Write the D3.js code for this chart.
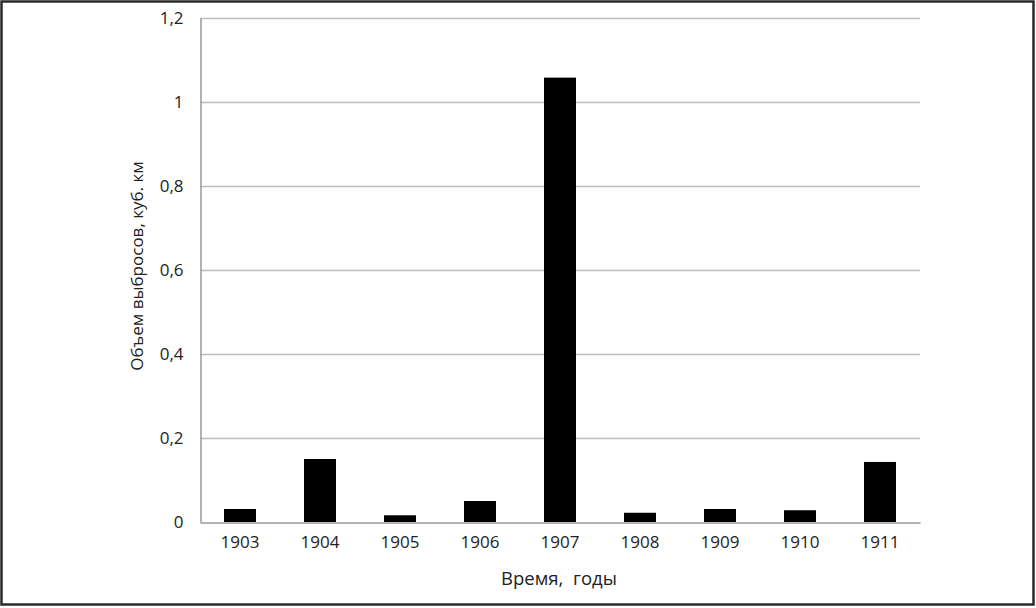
<!DOCTYPE html>
<html><head><meta charset="utf-8">
<script src="https://cdn.jsdelivr.net/npm/d3@7"></script>
<style>body{margin:0;background:#fff}svg{display:block}</style>
</head><body>
<svg id="c" width="1036" height="608"></svg>
<script>
const categories = ["1903","1904","1905","1906","1907","1908","1909","1910","1911"];
const values = [0.031, 0.15, 0.016, 0.05, 1.058, 0.022, 0.031, 0.028, 0.143];
const yTicks = [0, 0.2, 0.4, 0.6, 0.8, 1, 1.2];
const yTickLabels = ["0","0,2","0,4","0,6","0,8","1","1,2"];
const xTitle = "Время,  годы";
const yTitle = "Объем выбросов, куб. км";

const svg = d3.select("#c");
const font = "'Open Sans', sans-serif";
const m = {left:200, right:920, top:18, bottom:522};

svg.append("rect").attr("x",1.5).attr("y",1.5).attr("width",1032).attr("height",603)
  .attr("fill","#fff").attr("stroke","#2a2a2a").attr("stroke-width",2.5);

const x = d3.scaleBand().domain(categories).range([m.left, m.right]).paddingInner(0.6).paddingOuter(0.3);
const y = d3.scaleLinear().domain([0,1.2]).range([m.bottom, m.top]);

// gridlines
svg.append("g").selectAll("line").data(yTicks.filter(d=>d>0)).join("line")
  .attr("x1",m.left).attr("x2",m.right)
  .attr("y1",d=>Math.round(y(d))+0.5).attr("y2",d=>Math.round(y(d))+0.5)
  .attr("stroke","#bdbdbd").attr("stroke-width",1.3);

// y axis
const yAxis = d3.axisLeft(y).tickValues(yTicks).tickFormat((d,i)=>yTickLabels[i]).tickSize(0).tickPadding(17);
const ga = svg.append("g").attr("transform",`translate(${m.left+0.5},0)`).call(yAxis);
ga.select(".domain").attr("stroke","#9a9a9a").attr("stroke-width",1.5);
ga.selectAll("text").attr("font-family",font).attr("font-size",17).attr("fill","#222");

// bars
svg.append("g").selectAll("rect").data(values).join("rect")
  .attr("x",(d,i)=>x(categories[i])).attr("width",x.bandwidth())
  .attr("y",d=>y(d)).attr("height",d=>y(0)-y(d)).attr("fill","#000");

// x axis
const xAxis = d3.axisBottom(x).tickSize(0).tickPadding(13);
const gx = svg.append("g").attr("transform",`translate(0,${m.bottom+0.5})`).call(xAxis);
gx.select(".domain").attr("stroke","#9a9a9a").attr("stroke-width",1.5);
gx.selectAll("text").attr("font-family",font).attr("font-size",17).attr("fill","#222");

svg.append("text").attr("x",559).attr("y",585).attr("text-anchor","middle")
  .attr("font-family",font).attr("font-size",18.5).attr("fill","#222").style("white-space","pre").text(xTitle);
svg.append("text").attr("transform",`translate(143,266) rotate(-90)`).attr("text-anchor","middle")
  .attr("font-family",font).attr("font-size",17).attr("fill","#222").text(yTitle);
</script>
</body></html>
